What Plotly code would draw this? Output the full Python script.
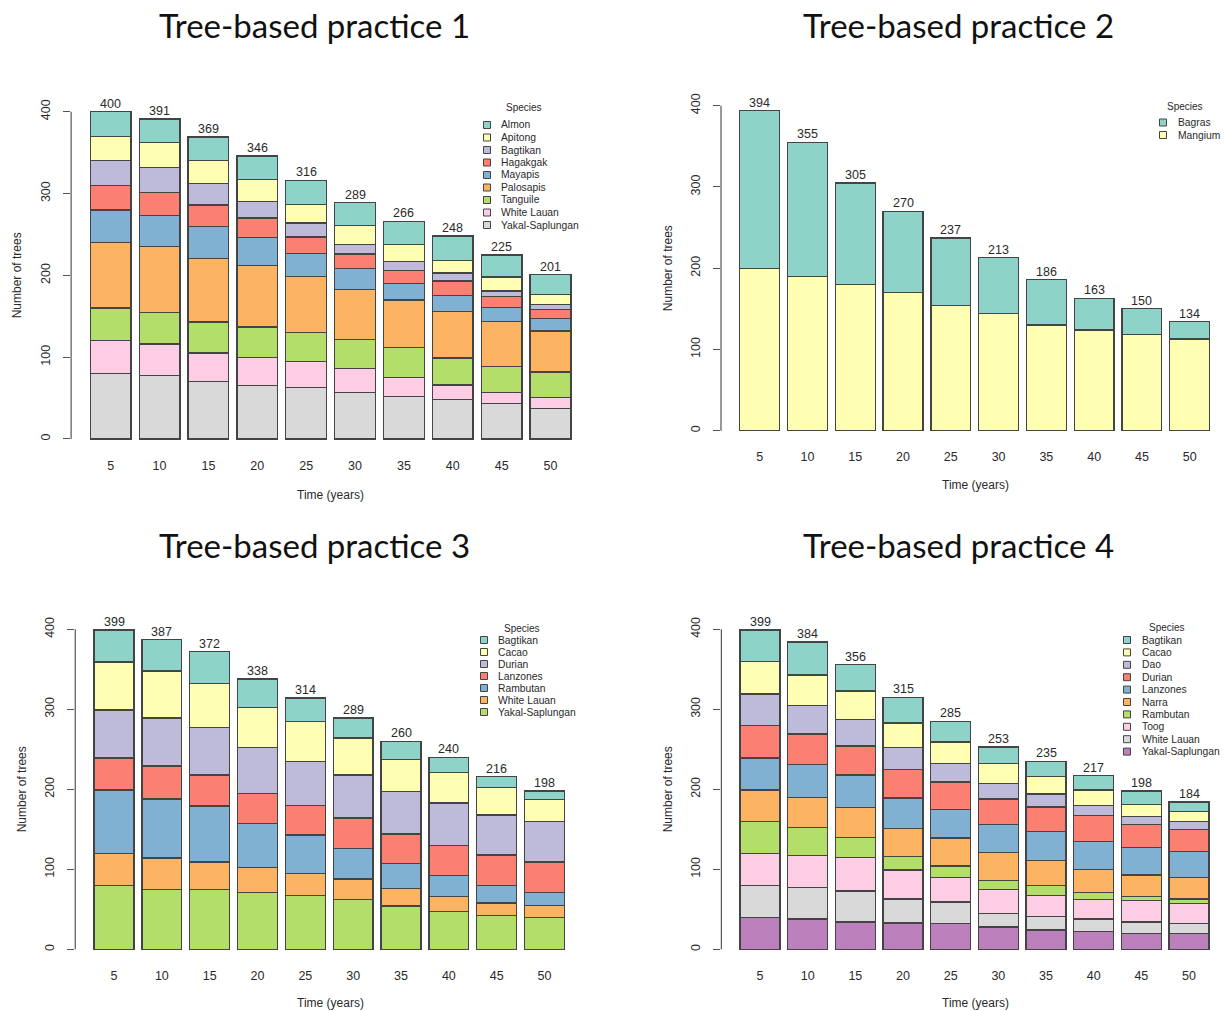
import plotly.graph_objects as go

W, H = 1225, 1011

years = ["5", "10", "15", "20", "25", "30", "35", "40", "45", "50"]
y_ticks = [0, 100, 200, 300, 400]

# RColorBrewer Set3
set3 = ["#8DD3C7", "#FFFFB3", "#BEBADA", "#FB8072", "#80B1D3",
        "#FDB462", "#B3DE69", "#FCCDE5", "#D9D9D9", "#BC80BD"]

# ---- Tree-based practice 1 (number of trees by species) ----
p1_almon = [30, 29, 29, 29, 29, 28, 28, 30, 27, 24]
p1_apitong = [30, 30, 28, 27, 23, 23, 21, 15, 17, 13]
p1_bagtikan = [30, 31, 26, 20, 17, 12, 11, 10, 7, 6]
p1_hagakgak = [30, 28, 26, 24, 20, 18, 16, 18, 13, 11]
p1_mayapis = [40, 38, 39, 34, 28, 25, 20, 19, 17, 15]
p1_palosapis = [80, 80, 78, 75, 69, 61, 58, 57, 55, 50]
p1_tanguile = [40, 39, 38, 37, 35, 36, 37, 33, 32, 31]
p1_white_lauan = [40, 38, 35, 35, 32, 29, 23, 18, 14, 14]
p1_yakal = [80, 78, 70, 65, 63, 57, 52, 48, 43, 37]

# ---- Tree-based practice 2 ----
p2_bagras = [194, 165, 125, 100, 83, 69, 56, 39, 32, 21]
p2_mangium = [200, 190, 180, 170, 154, 144, 130, 124, 118, 113]

# ---- Tree-based practice 3 ----
p3_bagtikan = [40, 39, 40, 36, 29, 25, 23, 19, 14, 11]
p3_cacao = [60, 59, 55, 50, 50, 46, 40, 38, 34, 27]
p3_durian = [60, 60, 59, 57, 55, 54, 53, 53, 50, 51]
p3_lanzones = [40, 41, 39, 38, 37, 38, 37, 38, 38, 38]
p3_rambutan = [79, 74, 70, 55, 48, 38, 31, 26, 22, 16]
p3_white_lauan = [40, 39, 34, 31, 28, 26, 22, 19, 16, 15]
p3_yakal = [80, 75, 75, 71, 67, 62, 54, 47, 42, 40]

# ---- Tree-based practice 4 ----
p4_bagtikan = [39, 41, 33, 32, 26, 21, 19, 18, 17, 12]
p4_cacao = [41, 38, 36, 31, 27, 25, 22, 19, 15, 12]
p4_dao = [39, 36, 33, 27, 23, 19, 16, 13, 10, 10]
p4_durian = [41, 38, 36, 36, 34, 32, 31, 32, 29, 28]
p4_lanzones = [40, 41, 41, 38, 36, 35, 36, 35, 34, 32]
p4_narra = [39, 38, 37, 35, 35, 35, 31, 29, 27, 27]
p4_rambutan = [40, 35, 25, 17, 14, 11, 13, 9, 5, 6]
p4_toog = [40, 40, 42, 36, 31, 30, 26, 24, 27, 25]
p4_white_lauan = [40, 39, 39, 30, 27, 17, 17, 16, 14, 12]
p4_yakal = [40, 38, 34, 33, 32, 28, 24, 22, 20, 20]

p1_names = ["Almon", "Apitong", "Bagtikan", "Hagakgak", "Mayapis",
            "Palosapis", "Tanguile", "White Lauan", "Yakal-Saplungan"]
p1_series = [p1_almon, p1_apitong, p1_bagtikan, p1_hagakgak, p1_mayapis,
             p1_palosapis, p1_tanguile, p1_white_lauan, p1_yakal]

p2_names = ["Bagras", "Mangium"]
p2_series = [p2_bagras, p2_mangium]

p3_names = ["Bagtikan", "Cacao", "Durian", "Lanzones", "Rambutan",
            "White Lauan", "Yakal-Saplungan"]
p3_series = [p3_bagtikan, p3_cacao, p3_durian, p3_lanzones, p3_rambutan,
             p3_white_lauan, p3_yakal]

p4_names = ["Bagtikan", "Cacao", "Dao", "Durian", "Lanzones", "Narra",
            "Rambutan", "Toog", "White Lauan", "Yakal-Saplungan"]
p4_series = [p4_bagtikan, p4_cacao, p4_dao, p4_durian, p4_lanzones,
             p4_narra, p4_rambutan, p4_toog, p4_white_lauan, p4_yakal]

titles = ["Tree-based practice 1", "Tree-based practice 2",
          "Tree-based practice 3", "Tree-based practice 4"]

# Panel geometry in page pixels: first/last bar centre, y pixel of 0 and 400,
# title centre, axis-title positions and legend placement.
panels = [
    dict(names=p1_names, series=p1_series, c1=110.7, c10=550.5, y0=439.0, y400=111.7,
         tx=314, ty=25, ylab_x=17, xlab_x=330, xlab_y=495,
         leg_title=(524, 107), leg_box=487, leg_text=499, leg_y=125, leg_dy=12.5),
    dict(names=p2_names, series=p2_series, c1=759.7, c10=1189.7, y0=430.7, y400=105.7,
         tx=958, ty=25, ylab_x=668, xlab_x=975, xlab_y=485,
         leg_title=(1185, 106), leg_box=1163, leg_text=1176, leg_y=122.5, leg_dy=12.5),
    dict(names=p3_names, series=p3_series, c1=114.0, c10=544.5, y0=949.3, y400=629.3,
         tx=314, ty=545, ylab_x=22, xlab_x=330, xlab_y=1003,
         leg_title=(522, 628), leg_box=484, leg_text=496, leg_y=640, leg_dy=12.0),
    dict(names=p4_names, series=p4_series, c1=760.0, c10=1189.0, y0=949.3, y400=629.3,
         tx=958, ty=545, ylab_x=668, xlab_x=975, xlab_y=1003,
         leg_title=(1167, 627), leg_box=1127, leg_text=1140, leg_y=640, leg_dy=12.4),
]

R_FONT = "Liberation Sans, Arial, sans-serif"
INK = "#2a2a2a"
EDGE = "#444444"


def px(x):
    return x / W


def py(y):
    return 1 - y / H


fig = go.Figure()
annotations = []
shapes = []
layout_axes = {}

for i, p in enumerate(panels):
    k = "" if i == 0 else str(i + 1)
    xa, ya = "x" + k, "y" + k
    pitch = (p["c10"] - p["c1"]) / 9.0
    left = p["c1"] - 0.81 * pitch
    right = min(p["c10"] + 0.81 * pitch, W)
    xr = [(left - p["c1"]) / pitch, (right - p["c1"]) / pitch]
    scale = (p["y0"] - p["y400"]) / 400.0
    top = p["y400"] - 16 * scale
    bottom = p["y0"] + 16 * scale

    n = len(p["names"])
    # stack from the bottom species upward
    for j in range(n - 1, -1, -1):
        fig.add_trace(go.Bar(
            x=years, y=p["series"][j], name=p["names"][j],
            marker=dict(color=set3[j], line=dict(color=EDGE, width=1.3)),
            xaxis=xa, yaxis=ya, showlegend=False,
        ))

    # stacked totals written above each bar
    totals = [sum(v) for v in zip(*p["series"])]
    for idx, tot in enumerate(totals):
        annotations.append(dict(
            x=idx, y=tot, xref=xa, yref=ya, text=str(tot), showarrow=False,
            xanchor="center", yanchor="bottom", yshift=-1,
            font=dict(family=R_FONT, size=12.5, color=INK),
        ))

    layout_axes["xaxis" + k] = dict(
        type="category", range=xr, domain=[px(left), px(right)], anchor=ya,
        showgrid=False, zeroline=False, showline=False, ticks="",
        tickfont=dict(family=R_FONT, size=12.5, color=INK),
        ticklabelstandoff=4,
    )
    layout_axes["yaxis" + k] = dict(
        range=[-16, 416], domain=[py(bottom), py(top)], anchor=xa,
        tickvals=y_ticks, ticks="outside", ticklen=7, tickwidth=1.2,
        tickcolor="#555555", tickangle=-90, showgrid=False, zeroline=False,
        showline=False, tickfont=dict(family=R_FONT, size=12.5, color=INK),
        ticklabelstandoff=8,
    )
    # axis line spanning only the tick range
    shapes.append(dict(type="line", xref=xa + " domain", yref=ya,
                       x0=0, x1=0, y0=0, y1=400,
                       line=dict(color="#555555", width=1.2)))

    # panel title
    annotations.append(dict(
        x=px(p["tx"]), y=py(p["ty"]), xref="paper", yref="paper",
        text=titles[i], showarrow=False, xanchor="center", yanchor="middle",
        font=dict(family="Lato, Carlito, sans-serif", size=33, color="#111111"),
    ))
    # axis titles
    annotations.append(dict(
        x=px(p["xlab_x"]), y=py(p["xlab_y"]),
        xref="paper", yref="paper", text="Time (years)", showarrow=False,
        xanchor="center", yanchor="middle",
        font=dict(family=R_FONT, size=12, color=INK),
    ))
    annotations.append(dict(
        x=px(p["ylab_x"]), y=(py(bottom) + py(top)) / 2, xref="paper", yref="paper",
        text="Number of trees", showarrow=False, textangle=-90,
        xanchor="center", yanchor="middle",
        font=dict(family=R_FONT, size=12, color=INK),
    ))

    # species legend
    tx, ty = p["leg_title"]
    annotations.append(dict(
        x=px(tx), y=py(ty), xref="paper", yref="paper", text="Species",
        showarrow=False, xanchor="center", yanchor="middle",
        font=dict(family=R_FONT, size=10, color=INK),
    ))
    for j, name in enumerate(p["names"]):
        yc = p["leg_y"] + j * p["leg_dy"]
        bx = p["leg_box"]
        shapes.append(dict(type="rect", xref="paper", yref="paper",
                           x0=px(bx - 3.5), x1=px(bx + 3.5),
                           y0=py(yc + 3.5), y1=py(yc - 3.5),
                           fillcolor=set3[j], line=dict(color=EDGE, width=1)))
        annotations.append(dict(
            x=px(p["leg_text"]), y=py(yc), xref="paper", yref="paper",
            text=name, showarrow=False, xanchor="left", yanchor="middle",
            font=dict(family=R_FONT, size=10.3, color=INK),
        ))

fig.update_layout(
    width=W, height=H, autosize=False,
    margin=dict(l=0, r=0, t=0, b=0),
    paper_bgcolor="white", plot_bgcolor="white",
    barmode="stack", bargap=1 - 1 / 1.2,
    showlegend=False,
    annotations=annotations, shapes=shapes,
    **layout_axes,
)

fig.write_html("out.html")
